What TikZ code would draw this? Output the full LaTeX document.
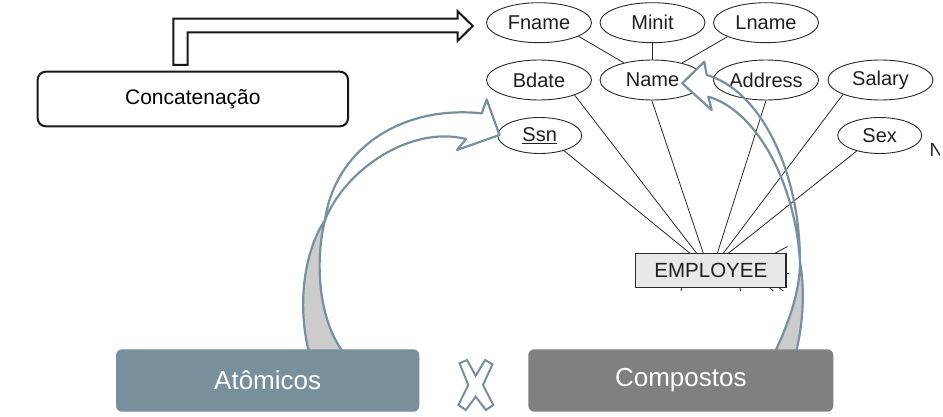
\documentclass[tikz,border=0pt]{standalone}
\usepackage{fontspec}
\setmainfont{Liberation Sans}
\usetikzlibrary{shapes.geometric}
\definecolor{steel}{RGB}{120,144,156}
\definecolor{dgray}{RGB}{128,128,128}
\definecolor{ribgray}{RGB}{204,204,204}
\definecolor{erline}{RGB}{40,40,40}
\definecolor{empfill}{RGB}{232,232,232}
\begin{document}
\begin{tikzpicture}[x=1pt,y=-1pt,
  attr/.style={ellipse,draw=erline,line width=0.9pt,minimum width=105pt,minimum height=40pt,inner sep=0pt,font=\fontsize{20}{24}\selectfont,text=black!88},
  sattr/.style={attr,minimum width=84pt,minimum height=36pt},
  erl/.style={draw=erline,line width=0.8pt},
  ribbon/.style={draw=steel,line width=2.2pt,line join=round},
  bigbox/.style={rounded corners=6pt,minimum height=62.4pt,inner sep=0pt,text=white,font=\fontsize{26}{30}\selectfont},
  blockarrow/.style={draw=black!90,line width=2pt,fill=white,line join=miter}]
\useasboundingbox (0,0) rectangle (943,417);
\fill[white] (0,0) rectangle (943,417);

% ER attributes
\node[attr] (fname) at (539,22.7) {Fname};
\node[attr] (minit) at (652.5,22.7) {Minit};
\node[attr] (lname) at (766,22.7) {Lname};
\node[attr] (bdate) at (539,80) {Bdate};
\node[attr] (name) at (652.5,80) {Name};
\node[attr] (address) at (766,80) {Address};
\node[attr] (salary) at (880.5,80) {Salary};
\node[sattr] (ssn) at (539.7,135.5) {\underline{Ssn}};
\node[sattr] (sex) at (879.7,135.5) {Sex};
\begin{scope}
  \clip (928,138) rectangle (939,162);
  \node[anchor=base west,inner sep=0pt,font=\fontsize{19}{22}\selectfont,text=black!85] (ncut) at (929.5,157) {N};
\end{scope}

% attachment points on the entity
\coordinate (t1) at (690,253.3);
\coordinate (t2) at (696.7,253.3);
\coordinate (t3) at (703.3,253.3);
\coordinate (t4) at (717.3,253.3);
\coordinate (t5) at (723.3,253.3);
\coordinate (t6) at (728.3,253.3);
\coordinate (t7) at (775,253.3);
\coordinate (t7e) at (787.5,246.5);

\draw[erl] (ssn.-32) -- (t1);
\draw[erl] (bdate.-23) -- (t2);
\draw[erl] (name.-92) -- (t3);
\draw[erl] (address.south) -- (t4);
\draw[erl] (salary.-159) -- (t5);
\draw[erl] (sex.-146) -- (t6);
\draw[erl] (t7) -- (t7e);
\draw[erl] (fname.-19) -- (name.149);
\draw[erl] (minit.south) -- (name.north);
\draw[erl] (lname.-160) -- (name.30);

\node[draw=erline,fill=empfill,line width=1.2pt,minimum width=150.3pt,minimum height=34pt,inner sep=0pt,font=\fontsize{20.5}{24}\selectfont,text=black!88] (emp) at (710.85,270.3) {EMPLOYEE};
\coordinate (s1) at (786,273.3); \coordinate (s1e) at (789,273.3);
\coordinate (s2) at (682,287.3); \coordinate (s2e) at (681,291);
\coordinate (s3) at (740,287.3); \coordinate (s3e) at (740.5,291);
\coordinate (s4) at (769.3,287.3); \coordinate (s4e) at (773.3,291);
\coordinate (s5) at (778.3,287.3); \coordinate (s5e) at (783.3,291);
\draw[erl] (s1) -- (s1e);
\draw[erl] (s2) -- (s2e);
\draw[erl] (s3) -- (s3e);
\draw[erl] (s4) -- (s4e);
\draw[erl] (s5) -- (s5e);

% Concatenacao box and block arrow
\node[draw=black!90,line width=2pt,rounded corners=8pt,minimum width=310.3pt,minimum height=54.6pt,inner sep=0pt,font=\fontsize{21}{25}\selectfont] (concat) at (192.85,99) {Concatenação};
\draw[blockarrow] (173.3,65) -- (173.3,18.7) -- (457.7,18.7) -- (457.7,11.2) -- (472.7,26) -- (457.7,40.8) -- (457.7,32.3) -- (187.7,32.3) -- (187.7,65) -- cycle;

% left curved arrow (to Ssn)
\fill[white] (481.7,113.3) -- (486.7,99.5) -- (499.5,135) -- (457,150) -- (466,139) -- cycle;
\draw[ribbon] (325,220) .. controls (335,150) and (400,105) .. (481.7,113.3) -- (486.7,99.5) -- (499.5,135) -- (457,150) -- (466,139) .. controls (410,125) and (345,170) .. (325,220);
\filldraw[ribbon,fill=ribgray] (309,352) .. controls (298,310) and (302,255) .. (325,220) .. controls (316,255) and (316,315) .. (343,352);

% right curved arrow (to Name)
\fill[white] (706.7,75) -- (704.3,61.7) -- (682.3,83.3) -- (711.7,110) -- (708.3,96.7) -- cycle;
\draw[ribbon] (800,262) .. controls (800,170) and (760,90) .. (706.7,75) -- (704.3,61.7) -- (682.3,83.3) -- (711.7,110) -- (708.3,96.7) .. controls (755,110) and (795,180) .. (800,262);
\filldraw[ribbon,fill=ribgray] (775,352) .. controls (790,320) and (800,290) .. (800,262) .. controls (805,290) and (803,325) .. (796,352);

% bottom boxes
\node[bigbox,fill=steel,minimum width=303.3pt] (atom) at (267.65,380.5) {Atômicos};
\node[bigbox,fill=dgray,minimum width=305pt] (comp) at (680.8,380.5) {Compostos};

% X symbol
\filldraw[draw=steel,fill=white,line width=2pt,line join=miter] (459.5,363.3) -- (466.9,360) -- (475.7,375.7) -- (485.2,360) -- (492.5,364.3) -- (483,385) -- (493.3,405) -- (485.9,410) -- (475.7,396.7) -- (465.8,410) -- (458.4,405) -- (468.3,385) -- cycle;
\end{tikzpicture}
\end{document}
